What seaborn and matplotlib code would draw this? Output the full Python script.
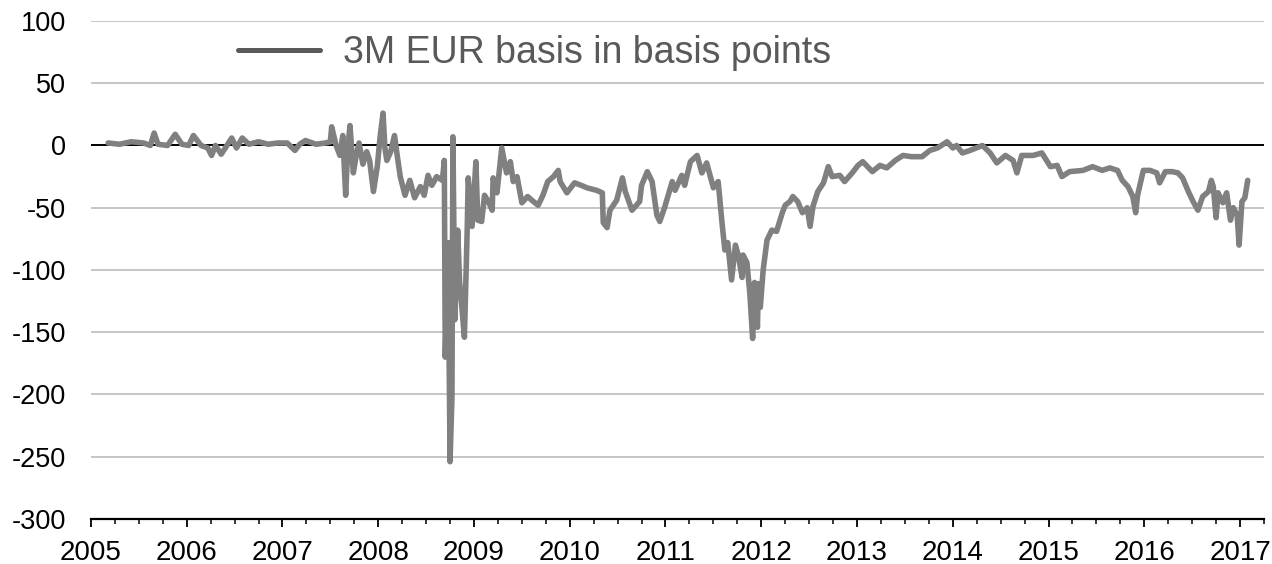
"""3M EUR basis (basis points), 2005-2017."""

import matplotlib

matplotlib.use("Agg")
import matplotlib.pyplot as plt
from matplotlib.lines import Line2D
from matplotlib.ticker import MultipleLocator
import pandas as pd
import seaborn as sns

# decimal years
t_year = [
    2005.18, 2005.30, 2005.42, 2005.55, 2005.62, 2005.66, 2005.70, 2005.80, 2005.88, 2005.95,
    2006.02, 2006.07, 2006.15, 2006.22, 2006.26, 2006.30, 2006.36, 2006.42, 2006.47, 2006.52,
    2006.58, 2006.65, 2006.75, 2006.85, 2006.95, 2007.05, 2007.13, 2007.18, 2007.24, 2007.35,
    2007.45, 2007.50, 2007.514, 2007.56, 2007.60, 2007.63, 2007.66, 2007.68, 2007.705, 2007.74,
    2007.77, 2007.80, 2007.84, 2007.88, 2007.91, 2007.95, 2007.99, 2008.02, 2008.05, 2008.07,
    2008.09, 2008.13, 2008.17, 2008.20, 2008.23, 2008.28, 2008.33, 2008.38, 2008.44, 2008.48,
    2008.52, 2008.56, 2008.61, 2008.67, 2008.69, 2008.70, 2008.73, 2008.75, 2008.77, 2008.78,
    2008.80, 2008.83, 2008.85, 2008.87, 2008.90, 2008.93, 2008.94, 2008.98, 2009.02, 2009.04,
    2009.08, 2009.11, 2009.15, 2009.19, 2009.20, 2009.24, 2009.29, 2009.34, 2009.38, 2009.41,
    2009.45, 2009.50, 2009.56, 2009.62, 2009.67, 2009.72, 2009.77, 2009.83, 2009.88, 2009.90,
    2009.97, 2010.05, 2010.12, 2010.18, 2010.28, 2010.34, 2010.35, 2010.39, 2010.42, 2010.49,
    2010.55, 2010.58, 2010.65, 2010.73, 2010.75, 2010.81, 2010.86, 2010.91, 2010.94, 2010.99,
    2011.07, 2011.10, 2011.17, 2011.20, 2011.26, 2011.33, 2011.38, 2011.43, 2011.50, 2011.55,
    2011.59, 2011.62, 2011.65, 2011.69, 2011.73, 2011.76, 2011.80, 2011.81, 2011.85, 2011.88,
    2011.91, 2011.93, 2011.96, 2011.97, 2011.99, 2012.02, 2012.06, 2012.11, 2012.16, 2012.22,
    2012.25, 2012.30, 2012.33, 2012.38, 2012.43, 2012.48, 2012.51, 2012.54, 2012.59, 2012.65,
    2012.70, 2012.74, 2012.82, 2012.87, 2012.95, 2013.01, 2013.06, 2013.16, 2013.24, 2013.31,
    2013.40, 2013.48, 2013.57, 2013.68, 2013.76, 2013.84, 2013.94, 2014.00, 2014.04, 2014.10,
    2014.18, 2014.31, 2014.39, 2014.46, 2014.55, 2014.63, 2014.67, 2014.72, 2014.84, 2014.93,
    2015.02, 2015.09, 2015.14, 2015.22, 2015.36, 2015.46, 2015.56, 2015.64, 2015.72, 2015.77,
    2015.83, 2015.88, 2015.91, 2015.93, 2015.99, 2016.06, 2016.13, 2016.16, 2016.22, 2016.29,
    2016.35, 2016.40, 2016.46, 2016.51, 2016.56, 2016.61, 2016.67, 2016.70, 2016.72, 2016.75,
    2016.77, 2016.82, 2016.86, 2016.90, 2016.93, 2016.97, 2016.99, 2017.02, 2017.05, 2017.08,
]
basis_bp = [
    2, 1, 3, 2, 0, 10, 1, 0, 9, 1,
    0, 8, 0, -2, -8, 0, -7, 0, 6, -2,
    6, 1, 3, 1, 2, 2, -4, 1, 4, 1,
    2, 3, 15, 0, -8, 8, -40, -5, 16, -22,
    -8, 2, -15, -5, -12, -37, -17, 7, 26, -2,
    -12, -5, 8, -9, -25, -40, -28, -42, -33, -40,
    -24, -32, -25, -28, -12, -170, -78, -254, -202, 7,
    -140, -68, -110, -127, -154, -65, -26, -65, -13, -60,
    -61, -40, -45, -52, -26, -38, -2, -22, -13, -29,
    -25, -46, -41, -45, -48, -40, -29, -25, -20, -29,
    -38, -30, -32, -34, -36, -38, -62, -66, -52, -44,
    -26, -37, -52, -45, -32, -21, -29, -56, -61, -50,
    -29, -36, -24, -32, -13, -8, -22, -14, -34, -29,
    -62, -84, -78, -108, -80, -88, -106, -88, -94, -118,
    -155, -110, -146, -111, -130, -100, -76, -68, -69, -54,
    -48, -45, -41, -45, -54, -50, -65, -49, -37, -30,
    -17, -25, -24, -29, -22, -16, -13, -21, -16, -18,
    -12, -8, -9, -9, -4, -2, 3, -2, 0, -6,
    -4, 0, -6, -14, -8, -12, -22, -8, -8, -6,
    -17, -16, -25, -21, -20, -17, -20, -18, -20, -28,
    -33, -41, -54, -40, -20, -20, -22, -30, -21, -21,
    -22, -26, -37, -45, -52, -41, -37, -28, -33, -58,
    -38, -46, -38, -60, -50, -56, -80, -45, -42, -28,
]
year_ticks = list(range(2005, 2018))
y_ticks = [100, 50, 0, -50, -100, -150, -200, -250, -300]
series_label = "3M EUR basis in basis points"

df = pd.DataFrame({"year": t_year, "basis": basis_bp})

sns.set_style("white")
plt.rcParams["font.family"] = ["Liberation Sans", "DejaVu Sans"]

fig = plt.figure(figsize=(12.72, 5.64), dpi=100)
ax = fig.add_axes([0.0715, 0.0798, 0.9222, 0.883])

ax.grid(axis="y", color="#c6c6c6", lw=1.4)
ax.set_axisbelow(True)
ax.axhline(0, color="black", lw=1.4, zorder=2)

sns.lineplot(
    data=df, x="year", y="basis", ax=ax, color="#808080", lw=4.0,
    legend=False, zorder=3, solid_joinstyle="round",
)

ax.set_xlim(2005, 2017.25)
ax.set_ylim(-300, 100)
ax.set_xticks(year_ticks)
ax.set_xticklabels([str(y) for y in year_ticks])
ax.xaxis.set_minor_locator(MultipleLocator(0.25))
ax.set_yticks(y_ticks)
ax.set_yticklabels([str(v) for v in y_ticks])
ax.set_xlabel("")
ax.set_ylabel("")

for side in ["top", "right", "left"]:
    ax.spines[side].set_visible(False)
ax.spines["bottom"].set_color("black")
ax.spines["bottom"].set_linewidth(1.6)

ax.tick_params(axis="x", which="major", length=6, width=1.3, color="black",
               direction="out", pad=9, labelsize=20, labelcolor="black", bottom=True)
ax.tick_params(axis="x", which="minor", length=3.5, width=1.1, color="black",
               direction="out", bottom=True)
ax.tick_params(axis="y", length=0, pad=18, labelsize=19.5, labelcolor="black")

handle = Line2D([], [], color="#595959", lw=3.6)
ax.legend(
    [handle], [series_label], loc="center left", bbox_to_anchor=(0.1253, 0.936),
    frameon=False, fontsize=27, handlelength=2.2, handletextpad=0.6,
    borderpad=0, borderaxespad=0, labelcolor="#595959",
)

fig.savefig("out.png", dpi=100)
plt.close(fig)
